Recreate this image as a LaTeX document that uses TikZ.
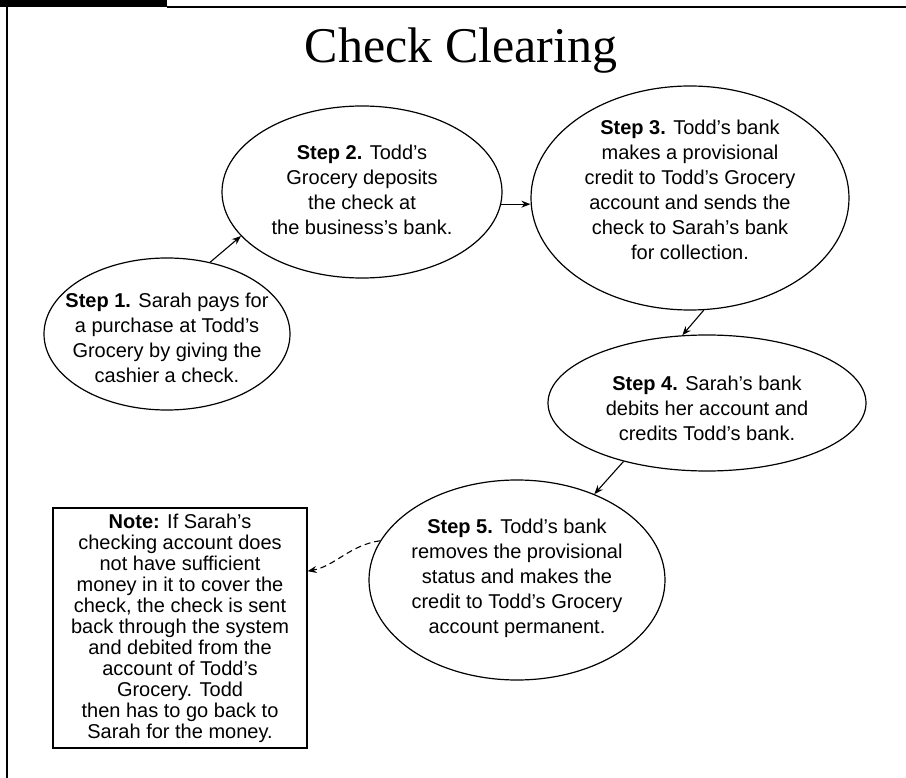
\documentclass[tikz,border=0pt]{standalone}
\usepackage{fontspec}
\setmainfont{Liberation Sans}
\newfontfamily\titlefont{Liberation Serif}
\usetikzlibrary{shapes.geometric,arrows.meta}
\begin{document}
\begin{tikzpicture}[x=1pt,y=-1pt,
  stage/.style={draw, ellipse, line width=1.2pt, inner sep=0pt},
  caption/.style={align=center, inner sep=0pt, font=\fontsize{20}{25}\selectfont},
  notebox/.style={draw, line width=1.2pt, inner sep=0pt, align=center,
    minimum width=254pt, minimum height=240pt, font=\fontsize{20}{21}\selectfont},
  link/.style={line width=1.1pt, -{Stealth[length=9pt,width=7pt]}},
  ]
\useasboundingbox (0,0) rectangle (906,778);
% frame
\fill (0,0) rectangle (167,7.3);
\draw[line width=2pt] (167,6.7) -- (906,6.7);
\draw[line width=2.2pt] (7,0) -- (7,778);
% title
\node[anchor=base, inner sep=0pt, font=\titlefont\fontsize{50}{55}\selectfont] (title) at (461,63) {Check Clearing};
% ellipses
\node[stage, minimum width=246pt, minimum height=152pt] (s1) at (167,334) {};
\node[stage, minimum width=280pt, minimum height=172pt] (s2) at (362,192) {};
\node[stage, minimum width=318pt, minimum height=224pt] (s3) at (690,198) {};
\node[stage, minimum width=318pt, minimum height=136pt] (s4) at (707,403) {};
\node[stage, minimum width=296pt, minimum height=200pt] (s5) at (517,580) {};
% texts
\node[caption] (t1) at (167,338) {\textbf{Step 1.} Sarah pays for\\a purchase at Todd's\\Grocery by giving the\\cashier a check.};
\node[caption] (t2) at (362,190) {\textbf{Step 2.} Todd's\\Grocery deposits\\the check at\\the business's bank.};
\node[caption] (t3) at (690,190) {\textbf{Step 3.} Todd's bank\\makes a provisional\\credit to Todd's Grocery\\account and sends the\\check to Sarah's bank\\for collection.};
\node[caption] (t4) at (707,408) {\textbf{Step 4.} Sarah's bank\\debits her account and\\credits Todd's bank.};
\node[caption] (t5) at (517,578) {\textbf{Step 5.} Todd's bank\\removes the provisional\\status and makes the\\credit to Todd's Grocery\\account permanent.};
\node[notebox] (note) at (180,628) {\textbf{Note:} If Sarah's\\checking account does\\not have sufficient\\money in it to cover the\\check, the check is sent\\back through the system\\and debited from the\\account of Todd's\\Grocery. Todd\\then has to go back to\\Sarah for the money.};
% connectors
\draw[link] (s1.59) -- (s2.200);
\draw[link] (s2.-5) -- (s2.-5 -| s3.west);
\draw[link] (s3.277) -- (s4.110);
\draw[link] (s4.215) -- (s5.48);
\draw[link, dashed, dash pattern=on 6pt off 4pt] (s5.164) .. controls (350,545) and (335,566) .. (note.24);
\end{tikzpicture}
\end{document}
